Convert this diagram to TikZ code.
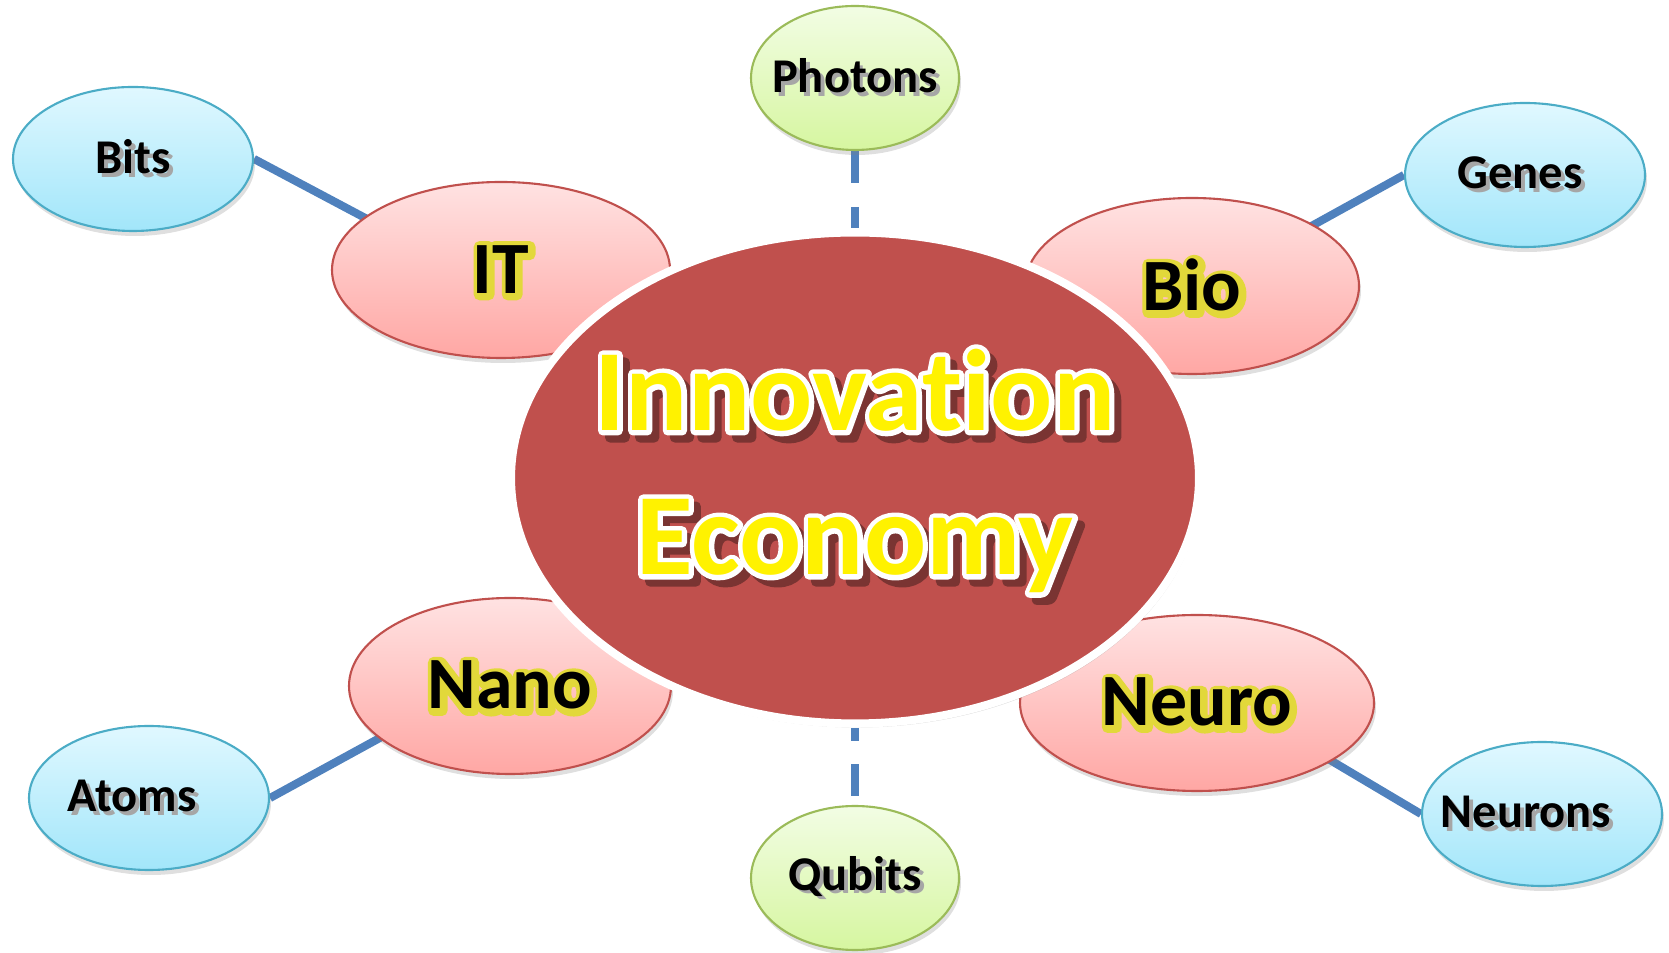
\documentclass[tikz,border=0pt]{standalone}
\usepackage{fontspec}
\setmainfont{Carlito}[Ligatures=NoCommon]
\usetikzlibrary{shapes.geometric,shadows,backgrounds}

\definecolor{ecored}{HTML}{C0504D}
\definecolor{linkblue}{HTML}{4F81BD}
\definecolor{pinktop}{HTML}{FFE2E2}
\definecolor{pinkbot}{HTML}{FFA7A4}
\definecolor{bluetop}{HTML}{E0F8FF}
\definecolor{bluebot}{HTML}{A2E6FA}
\definecolor{blueline}{HTML}{4BACC6}
\definecolor{greentop}{HTML}{F2FDE4}
\definecolor{greenbot}{HTML}{D6F6A0}
\definecolor{greenline}{HTML}{9BBB59}
\definecolor{glowy}{HTML}{E2D83A}
\definecolor{ecoshade}{HTML}{7A3432}

% outline (stroked copy) and offset shadow of a text
\newcommand\outl[3]{\rlap{\color{#1}\special{pdf:literal direct 1 Tr #2 w 1 j}#3\special{pdf:literal direct 0 Tr}}}
\newcommand\shad[3]{\rlap{\color{#1}\kern#2\raisebox{-#2}{#3}}}
\newcommand\fieldtxt[1]{\makebox[0pt]{\outl{glowy}{3.2}{\kern.4pt\raisebox{-.4pt}{#1}}#1}}
\newcommand\unittxt[2][0pt]{\makebox[0pt]{\shad{black!35}{1.1pt}{#2}#2\hspace{#1}}}
\newcommand\ecotxt[1]{\makebox[0pt]{\smash{\raisebox{-7pt}{%
  \shad{ecoshade}{2pt}{\outl{ecoshade}{2.8}{#1}#1}\outl{white}{2.8}{#1}\color{yellow}#1}}}}

\tikzset{
  eco/.style={ellipse, draw=white, line width=2.3pt, fill=ecored, minimum width=6.88cm, minimum height=4.91cm,
    inner sep=0pt, align=center, font=\fontsize{33}{41}\selectfont\bfseries,
    drop shadow={opacity=.3, shadow xshift=.02, shadow yshift=-.04}},
  field/.style={ellipse, draw=ecored, line width=.6pt, top color=pinktop, bottom color=pinkbot,
    minimum height=1.76cm, inner sep=0pt, font=\fontsize{21}{24}\selectfont\bfseries,
    drop shadow={opacity=.25, shadow xshift=.02, shadow yshift=-.05}},
  unit/.style={ellipse, draw=blueline, line width=.6pt, top color=bluetop, bottom color=bluebot,
    minimum width=2.4cm, minimum height=1.44cm, inner sep=0pt, font=\fontsize{13.8}{16}\selectfont\bfseries,
    drop shadow={opacity=.25, shadow xshift=.02, shadow yshift=-.05}},
  quant/.style={unit, draw=greenline, top color=greentop, bottom color=greenbot, minimum width=2.08cm},
  link/.style={linkblue, line width=2.3pt},
  dashlink/.style={link, dash pattern=on 9.1pt off 6.8pt},
}

\begin{document}
\begin{tikzpicture}
  \useasboundingbox (0,0) rectangle (16.69,9.53);

  % the four fields round the centre
  \node [field, minimum width=3.38cm] (it) at (5.01,6.83) {\fieldtxt{IT}};
  \node [field, minimum width=3.34cm] (bio) at (11.92,6.67) {\fieldtxt{Bio}};
  \node [field, minimum width=3.22cm] (nano) at (5.10,2.67) {\fieldtxt{Nano}};
  \node [field, minimum width=3.54cm] (neuro) at (11.97,2.50) {\fieldtxt{Neuro}};

  \node [eco] (eco) at (8.55,4.75) {\ecotxt{Innovation}\\\ecotxt{Economy}};

  % outer units
  \node [unit] (bits) at (1.33,7.94) {\unittxt{Bits}};
  \node [unit] (genes) at (15.25,7.78) {\unittxt[.1cm]{Genes}};
  \node [unit] (atoms) at (1.49,1.55) {\unittxt[.34cm]{Atoms}};
  \node [unit] (neurons) at (15.42,1.39) {\unittxt[.32cm]{Neurons}};
  \node [quant] (photons) at (8.55,8.75) {\unittxt{Photons}};
  \node [quant] (qubits) at (8.55,0.75) {\unittxt{Qubits}};

  \begin{scope}[on background layer]
    \draw [link] (bits.east) -- (eco) ;
    \draw [link] (genes.west) -- (eco) ;
    \draw [link] (atoms.east) -- (eco) ;
    \draw [link] (neurons.west) -- (eco) ;
    \draw [dashlink] (photons) -- (eco) ;
    \draw [dashlink, dash phase=5.4pt] (eco) -- (qubits) ;
  \end{scope}
\end{tikzpicture}
\end{document}
